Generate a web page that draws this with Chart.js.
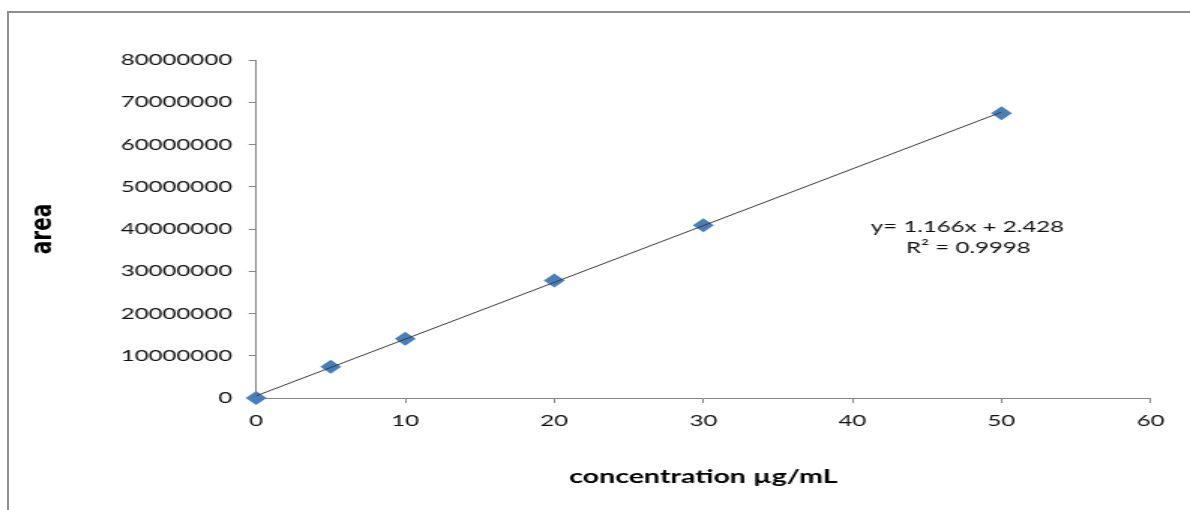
<!DOCTYPE html>
<html><head><meta charset="utf-8">
<script src="https://cdn.jsdelivr.net/npm/chart.js@4"></script>
<style>
html,body{margin:0;padding:0;background:#fff;overflow:hidden}
#wrap{position:relative;width:1190px;height:510px;overflow:hidden}
#frame{position:absolute;left:7px;top:11px;width:1200px;height:520px;border-left:2px solid #8e8e8e;border-top:2px solid #8e8e8e}
canvas{position:absolute;left:0;top:0}
</style></head><body>
<div id="wrap"><div id="frame"></div><canvas id="c" width="793" height="510" style="width:1190px;height:510px"></canvas></div>
<script>
// Data
const concentrations = [0, 5, 10, 20, 30, 50];
const areas = [0, 7400000, 14000000, 27800000, 40900000, 67400000];
const xTickValues = [0, 10, 20, 30, 40, 50, 60];
const yTickValues = [0, 10000000, 20000000, 30000000, 40000000, 50000000, 60000000, 70000000, 80000000];
const equationLines = ['y= 1.166x + 2.428', 'R\u00B2 = 0.9998'];
const xTitle = 'concentration \u00B5g/mL';
const yTitle = 'area';

// least-squares trendline through the measured points
const n = concentrations.length;
const mx = concentrations.reduce((a, b) => a + b, 0) / n;
const my = areas.reduce((a, b) => a + b, 0) / n;
let sxy = 0, sxx = 0;
for (let i = 0; i < n; i++) { sxy += (concentrations[i] - mx) * (areas[i] - my); sxx += (concentrations[i] - mx) ** 2; }
const slope = sxy / sxx, intercept = my - slope * mx;
const xFirst = concentrations[0], xLast = concentrations[n - 1];
const trend = [{x: xFirst, y: slope * xFirst + intercept}, {x: xLast, y: slope * xLast + intercept}];

const axisColor = '#868686';
const equationPlugin = {
  id: 'equation',
  afterDatasetsDraw(chart) {
    const ctx = chart.ctx;
    ctx.save();
    ctx.font = '16px Lato';
    ctx.fillStyle = '#111';
    ctx.textAlign = 'center';
    ctx.textBaseline = 'middle';
    ctx.fillText(equationLines[0], 644.7, 227);
    ctx.fillText(equationLines[1], 645.3, 248);
    ctx.restore();
  }
};

new Chart(document.getElementById('c'), {
  type: 'scatter',
  data: {
    datasets: [
      {type: 'line', data: trend, borderColor: '#3a3a3a', borderWidth: 1, pointRadius: 0, fill: false, clip: false},
      {data: concentrations.map((x, i) => ({x, y: areas[i]})), pointStyle: 'rectRot', pointRadius: 7,
       backgroundColor: '#4a7ebb', borderColor: '#4a7ebb', borderWidth: 0, clip: false}
    ]
  },
  options: {
    responsive: false, animation: false, devicePixelRatio: 1,
    layout: {padding: {left: 0, right: 26.3, top: 60, bottom: 0}},
    plugins: {legend: {display: false}, tooltip: {enabled: false}},
    scales: {
      x: {
        type: 'linear', min: 0, max: 60,
        afterBuildTicks: s => { s.ticks = xTickValues.map(v => ({value: v})); },
        afterFit: s => { s.height = 112; },
        grid: {drawOnChartArea: false, drawTicks: true, tickLength: 5, color: axisColor},
        border: {color: axisColor, width: 1},
        ticks: {font: {family: 'Lato', size: 16}, color: '#111', padding: 8, maxRotation: 0},
        title: {display: true, text: xTitle, font: {family: 'Lato', size: 19, weight: 'bold'}, color: '#000', padding: {top: 0, bottom: 22}}
      },
      y: {
        type: 'linear', min: 0, max: 80000000,
        afterBuildTicks: s => { s.ticks = yTickValues.map(v => ({value: v})); },
        afterFit: s => { s.width = 170.7; },
        grid: {drawOnChartArea: false, drawTicks: true, tickLength: 5, color: axisColor},
        border: {color: axisColor, width: 1},
        ticks: {font: {family: 'Lato', size: 16}, color: '#111', padding: 11, callback: v => String(v)},
        title: {display: true, text: yTitle, font: {family: 'DejaVu Sans', size: 20, weight: 'bold'}, color: '#000', padding: {top: 17, bottom: 0}}
      }
    }
  },
  plugins: [equationPlugin]
});
</script>
</body></html>
